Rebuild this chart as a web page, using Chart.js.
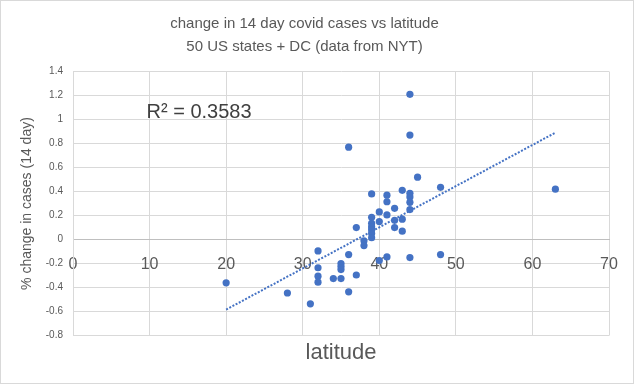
<!DOCTYPE html>
<html>
<head>
<meta charset="utf-8">
<script src="https://cdn.jsdelivr.net/npm/chart.js@4/dist/chart.umd.min.js"></script>
<style>
  html, body { margin: 0; padding: 0; background: #fff; }
  #wrap { width: 634px; height: 384px; }
</style>
</head>
<body>
<div id="wrap"><canvas id="chart" width="634" height="384"></canvas></div>
<script>
  // one point per state (+ DC)
  const latitude = [
    20, 28, 31, 32, 32, 32, 32, 34, 35, 35,
    35, 35, 36, 36, 36, 37, 37, 38, 38, 39,
    39, 39, 39, 39, 39, 39, 40, 40, 40, 41,
    41, 41, 41, 42, 42, 42, 43, 43, 43, 44,
    44, 44, 44, 44, 44, 44, 45, 48, 48, 63
  ];
  const caseChange = [
    -0.36, -0.445, -0.535, -0.095, -0.235, -0.305, -0.355, -0.325, -0.20, -0.225,
    -0.25, -0.325, -0.125, -0.435, 0.77, 0.10, -0.295, -0.01, -0.05, 0.38,
    0.185, 0.135, 0.105, 0.08, 0.05, 0.015, 0.23, 0.15, -0.175, 0.37,
    0.315, 0.205, -0.145, 0.26, 0.16, 0.10, 0.41, 0.17, 0.07, 1.21,
    0.87, 0.385, 0.355, 0.31, 0.25, -0.15, 0.52, 0.435, -0.125, 0.42
  ];
  const xTicks = [0, 10, 20, 30, 40, 50, 60, 70];
  const yTicks = [-0.8, -0.6, -0.4, -0.2, 0, 0.2, 0.4, 0.6, 0.8, 1, 1.2, 1.4];
  const rSquaredLabel = "R\u00b2 = 0.3583";

  const points = latitude.map((x, i) => ({ x: x, y: caseChange[i] }));

  // least squares trendline over the data range
  function trend() {
    const n = latitude.length;
    let sx = 0, sy = 0, sxx = 0, sxy = 0;
    for (let i = 0; i < n; i++) {
      sx += latitude[i]; sy += caseChange[i];
      sxx += latitude[i] * latitude[i]; sxy += latitude[i] * caseChange[i];
    }
    const b = (n * sxy - sx * sy) / (n * sxx - sx * sx);
    const a = (sy - b * sx) / n;
    const lo = Math.min(...latitude), hi = Math.max(...latitude);
    return [{ x: lo, y: a + b * lo }, { x: hi, y: a + b * hi }];
  }

  const grey = "#595959";
  const blue = "#4472C4";

  const frame = {
    id: "frame",
    beforeDraw(chart) {
      const c = chart.ctx;
      c.save();
      c.fillStyle = "#fff";
      c.fillRect(0, 0, chart.width, chart.height);
      c.strokeStyle = "#d9d9d9";
      c.lineWidth = 1;
      c.strokeRect(0.5, 0.5, chart.width - 1, chart.height - 1);
      c.restore();
    },
    afterDatasetsDraw(chart) {
      const c = chart.ctx;
      const xs = chart.scales.x, ys = chart.scales.y;
      c.save();
      c.font = "20px 'Liberation Sans', Arial, sans-serif";
      c.fillStyle = "#404040";
      c.textBaseline = "middle";
      c.fillText(rSquaredLabel, xs.getPixelForValue(9.6), ys.getPixelForValue(1.06));
      c.restore();
    }
  };

  window.onload = () => {
    const ctx = document.getElementById("chart").getContext("2d");
    new Chart(ctx, {
      type: "scatter",
      data: {
        datasets: [
          {
            label: "states",
            data: points,
            backgroundColor: blue,
            borderColor: blue,
            pointRadius: 3.6,
            pointHoverRadius: 3.6,
            borderWidth: 0
          },
          {
            label: "trend",
            data: trend(),
            showLine: true,
            borderColor: blue,
            borderWidth: 2,
            borderDash: [2, 1.6],
            pointRadius: 0,
            fill: false
          }
        ]
      },
      options: {
        responsive: false,
        animation: false,
        layout: { padding: { left: 0, right: 25, top: 0, bottom: 18 } },
        plugins: {
          legend: { display: false },
          tooltip: { enabled: false },
          title: {
            display: true,
            text: ["change in 14 day covid cases vs latitude", "50 US states + DC (data from NYT)"],
            color: grey,
            font: { family: "'Liberation Sans', Arial, sans-serif", size: 15, weight: "normal", lineHeight: 1.55 },
            padding: { top: 12, bottom: 13 }
          },
          subtitle: {
            display: true,
            position: "bottom",
            fullSize: false,
            text: "latitude",
            color: grey,
            font: { family: "'Liberation Sans', Arial, sans-serif", size: 22, weight: "normal", lineHeight: 1.2 },
            padding: { top: 4, bottom: 0 }
          }
        },
        scales: {
          x: {
            type: "linear",
            position: { y: 0 },
            min: 0,
            max: 70,
            afterBuildTicks: s => { s.ticks = xTicks.map(v => ({ value: v })); },
            ticks: {
              color: grey,
              padding: 15,
              font: { family: "'Liberation Sans', Arial, sans-serif", size: 16 }
            },
            grid: { color: "#d9d9d9", drawTicks: false },
            border: { color: "#bfbfbf" }
          },
          y: {
            type: "linear",
            min: -0.8,
            max: 1.4,
            afterBuildTicks: s => { s.ticks = yTicks.map(v => ({ value: v })); },
            afterFit: s => { s.width = 73; },
            ticks: {
              color: grey,
              padding: 10,
              font: { family: "'Liberation Sans', Arial, sans-serif", size: 10 },
              callback: v => String(Number(v.toFixed(1)))
            },
            grid: {
              drawTicks: false,
              color: c => (c.tick && c.tick.value === 0 ? "#bfbfbf" : "#d9d9d9")
            },
            border: { color: "#d9d9d9" },
            title: {
              display: true,
              text: "% change in cases (14 day)",
              color: grey,
              font: { family: "'Liberation Sans', Arial, sans-serif", size: 14 },
              padding: { top: 19, bottom: 0 }
            }
          }
        }
      },
      plugins: [frame]
    });
  };
</script>
</body>
</html>
